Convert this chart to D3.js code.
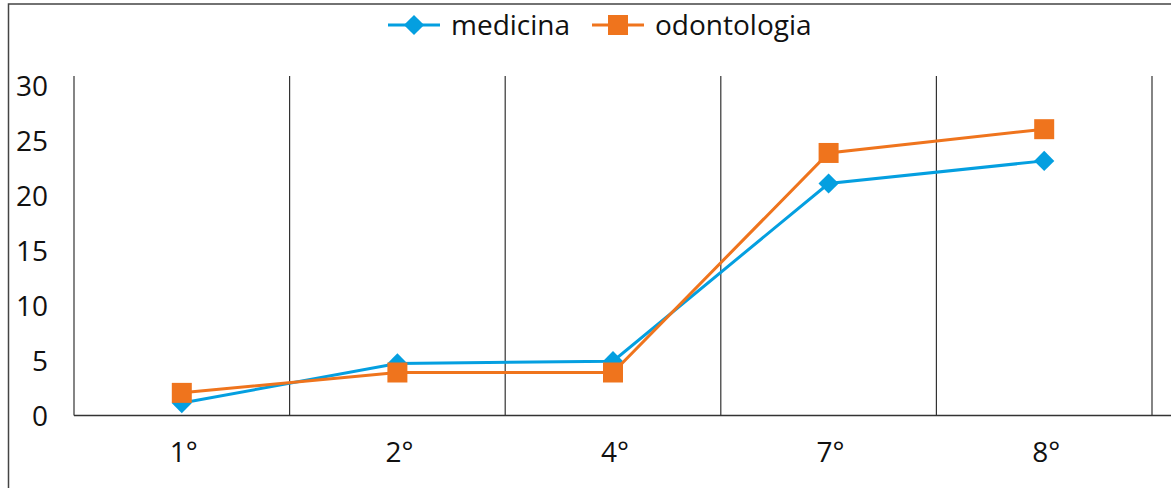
<!DOCTYPE html>
<html lang="pt">
<head>
  <meta charset="UTF-8">
  <title>medicina / odontologia</title>
  <script src="https://d3js.org/d3.v7.min.js"></script>
  <style>
    body { margin: 0; background: #fff; }
    svg { display: block; font-family: "Open Sans", "Noto Sans", sans-serif; }
  </style>
</head>
<body>
  <div id="chart"></div>
  <script>
    // Data
    const categories = ["1°", "2°", "4°", "7°", "8°"];
    const medicina = [1.1, 4.6, 4.8, 20.5, 22.5];
    const odontologia = [2.0, 3.8, 3.8, 23.2, 25.3];
    const yTicks = [0, 5, 10, 15, 20, 25, 30];

    const series = [
      { name: "medicina", values: medicina, color: "#049fe0", shape: "diamond" },
      { name: "odontologia", values: odontologia, color: "#ef741d", shape: "square" }
    ];

    const width = 1171, height = 488;
    const plot = { left: 74, right: 1152, top: 76, bottom: 415.5 };

    const svg = d3.select("#chart").append("svg")
      .attr("width", width)
      .attr("height", height);

    // outer frame (bottom and right are outside the visible area)
    svg.append("path")
      .attr("d", `M8.5,${height + 2} V4 H${width + 2}`)
      .attr("fill", "none")
      .attr("stroke", "#444")
      .attr("stroke-width", 1.5);

    const x = d3.scaleBand()
      .domain(categories)
      .range([plot.left, plot.right])
      .padding(0);

    const y = d3.scaleLinear()
      .domain([0, 30])
      .range([plot.bottom, plot.top]);

    // vertical separators between categories
    svg.append("g")
      .selectAll("line")
      .data(categories)
      .join("line")
      .attr("x1", d => x(d) + x.bandwidth())
      .attr("x2", d => x(d) + x.bandwidth())
      .attr("y1", plot.top)
      .attr("y2", plot.bottom)
      .attr("stroke", "#333")
      .attr("stroke-width", 1.2);

    // y axis line
    svg.append("line")
      .attr("x1", plot.left).attr("x2", plot.left)
      .attr("y1", plot.top).attr("y2", plot.bottom)
      .attr("stroke", "#333")
      .attr("stroke-width", 1.2);

    // x axis line
    svg.append("line")
      .attr("x1", plot.left).attr("x2", width)
      .attr("y1", plot.bottom).attr("y2", plot.bottom)
      .attr("stroke", "#333")
      .attr("stroke-width", 1.5);

    // y tick labels (the source spaces them a bit tighter than the ticks)
    svg.append("g")
      .selectAll("text")
      .data(yTicks)
      .join("text")
      .attr("x", 48)
      .attr("y", d => y(d) + 1 + d * 0.3)
      .attr("dy", "0.35em")
      .attr("text-anchor", "end")
      .attr("font-size", 28)
      .attr("fill", "#111")
      .text(d => d);

    // x tick labels
    svg.append("g")
      .selectAll("text")
      .data(categories)
      .join("text")
      .attr("x", d => x(d) + x.bandwidth() / 2 + 2)
      .attr("y", 452)
      .attr("dy", "0.35em")
      .attr("text-anchor", "middle")
      .attr("font-size", 28)
      .attr("fill", "#111")
      .text(d => d);

    const line = d3.line()
      .x((d, i) => x(categories[i]) + x.bandwidth() / 2)
      .y(d => y(d));

    const diamond = d3.symbol().type(d3.symbolDiamond2).size(260);
    const square = d3.symbol().type(d3.symbolSquare).size(400);

    series.forEach(s => {
      const g = svg.append("g");
      g.append("path")
        .datum(s.values)
        .attr("d", line)
        .attr("fill", "none")
        .attr("stroke", s.color)
        .attr("stroke-width", 3);
      g.selectAll("path.marker")
        .data(s.values)
        .join("path")
        .attr("class", "marker")
        .attr("transform", (d, i) => `translate(${x(categories[i]) + x.bandwidth() / 2},${y(d)})`)
        .attr("d", s.shape === "diamond" ? diamond : square)
        .attr("fill", s.color);
    });

    // legend
    const legendItems = [
      { s: series[0], x: 388 },
      { s: series[1], x: 592 }
    ];
    const legend = svg.append("g");
    legendItems.forEach(item => {
      const g = legend.append("g").attr("transform", `translate(${item.x},25)`);
      g.append("line")
        .attr("x1", 0).attr("x2", 52)
        .attr("stroke", item.s.color)
        .attr("stroke-width", 3);
      g.append("path")
        .attr("transform", "translate(26,0)")
        .attr("d", item.s.shape === "diamond" ? diamond : square)
        .attr("fill", item.s.color);
      g.append("text")
        .attr("x", 63)
        .attr("dy", "0.35em")
        .attr("font-size", 28)
        .attr("fill", "#111")
        .text(item.s.name);
    });
  </script>
</body>
</html>
